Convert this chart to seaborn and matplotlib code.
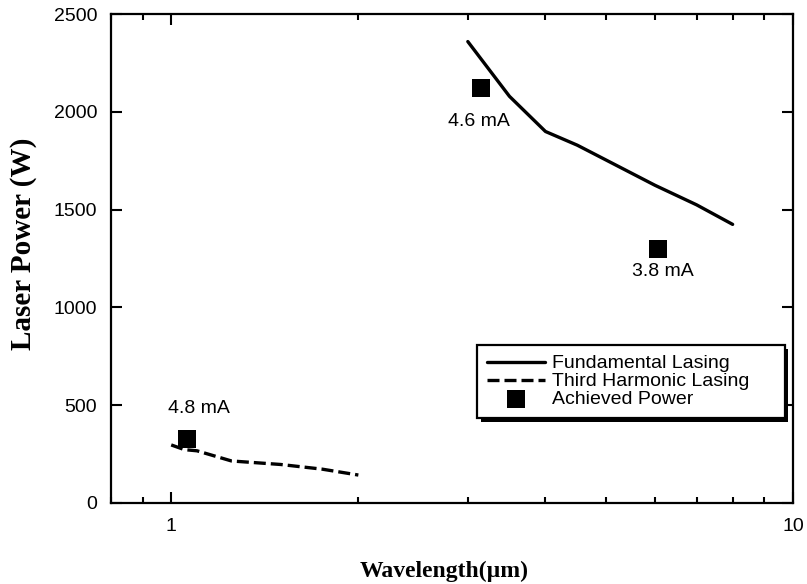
import matplotlib

matplotlib.use("Agg")
import matplotlib.pyplot as plt
import matplotlib.patheffects as pe
import matplotlib.ticker as mticker
import seaborn as sns

# Fundamental lasing curve
fund_wavelength = [3.0, 3.5, 4.0, 4.5, 5.0, 6.0, 7.0, 8.0]
fund_power = [2360, 2080, 1900, 1830, 1755, 1625, 1525, 1425]

# Third harmonic lasing curve
third_wavelength = [1.0, 1.05, 1.1, 1.25, 1.5, 1.75, 2.0]
third_power = [297, 273, 267, 215, 197, 173, 143]

# Achieved power points
achieved_wavelength = [3.15, 6.07, 1.06]
achieved_power = [2120, 1300, 326]
achieved_labels = ["4.6 mA", "3.8 mA", "4.8 mA"]

x_ticks = [1, 10]
y_ticks = [0, 500, 1000, 1500, 2000, 2500]

sns.set_style("ticks")
plt.rcParams["font.family"] = ["Liberation Sans", "DejaVu Sans"]
plt.rcParams.update({"text.color": "black", "axes.labelcolor": "black",
                     "xtick.color": "black", "ytick.color": "black"})

fig = plt.figure(figsize=(8.07, 5.84), dpi=100)
ax = fig.add_axes([0.1375, 0.1387, 0.845, 0.837])

sns.lineplot(
    x=fund_wavelength,
    y=fund_power,
    color="black",
    linewidth=2.4,
    estimator=None,
    sort=False,
    label="Fundamental Lasing",
    ax=ax,
)
sns.lineplot(
    x=third_wavelength,
    y=third_power,
    color="black",
    linewidth=2.4,
    estimator=None,
    sort=False,
    label="Third Harmonic Lasing",
    ax=ax,
)
ax.lines[-1].set_linestyle((0, (3.6, 1.5)))
sns.scatterplot(
    x=achieved_wavelength,
    y=achieved_power,
    marker="s",
    s=185,
    color="black",
    linewidth=0,
    label="Achieved Power",
    ax=ax,
)

# labels next to the squares
offsets = [(-1.5, -24), (3.5, -16), (8.5, 22)]
for xv, yv, txt, off in zip(achieved_wavelength, achieved_power, achieved_labels, offsets):
    ax.annotate(
        txt,
        (xv, yv),
        xytext=off,
        textcoords="offset points",
        ha="center",
        va="center",
        fontsize=14,
        color="black",
    )

ax.set_xscale("log")
ax.set_xlim(0.8, 10)
ax.set_ylim(0, 2500)
ax.set_xticks(x_ticks)
ax.xaxis.set_major_formatter(mticker.FuncFormatter(lambda v, p: f"{v:g}"))
ax.xaxis.set_minor_locator(mticker.LogLocator(base=10, subs=range(2, 10)))
ax.xaxis.set_minor_formatter(mticker.NullFormatter())
ax.set_yticks(y_ticks)
ax.yaxis.set_minor_locator(mticker.NullLocator())

ax.tick_params(which="both", direction="in", top=True, right=True, width=1.5,
               labelsize=14, color="black", labelcolor="black")
ax.tick_params(which="major", length=8)
ax.tick_params(which="minor", length=4)
ax.tick_params(axis="x", pad=11)
ax.tick_params(axis="y", pad=10)
for sp in ax.spines.values():
    sp.set_linewidth(1.6)
    sp.set_color("black")

ax.set_xlabel("Wavelength(µm)", family=["Liberation Serif", "DejaVu Serif"],
              fontweight="bold", fontsize=17)
ax.set_ylabel("Laser Power (W)", family=["Liberation Serif", "DejaVu Serif"],
              fontweight="bold", fontsize=21)
ax.xaxis.set_label_coords(0.488, -0.118)
ax.yaxis.set_label_coords(-0.108, 0.53)

leg = ax.legend(
    loc="upper left",
    bbox_to_anchor=(0.537, 0.16, 0.451, 0.163),
    mode="expand",
    fontsize=14,
    frameon=True,
    fancybox=False,
    framealpha=1,
    edgecolor="black",
    handlelength=3,
    handletextpad=0.35,
    labelspacing=0.02,
    borderpad=0.5,
    borderaxespad=0,
)
leg.get_frame().set_linewidth(1.6)
leg.get_frame().set_path_effects(
    [pe.SimplePatchShadow(offset=(2.5, -2.5), shadow_rgbFace="black", alpha=1), pe.Normal()]
)

fig.savefig("out.png", dpi=100)
